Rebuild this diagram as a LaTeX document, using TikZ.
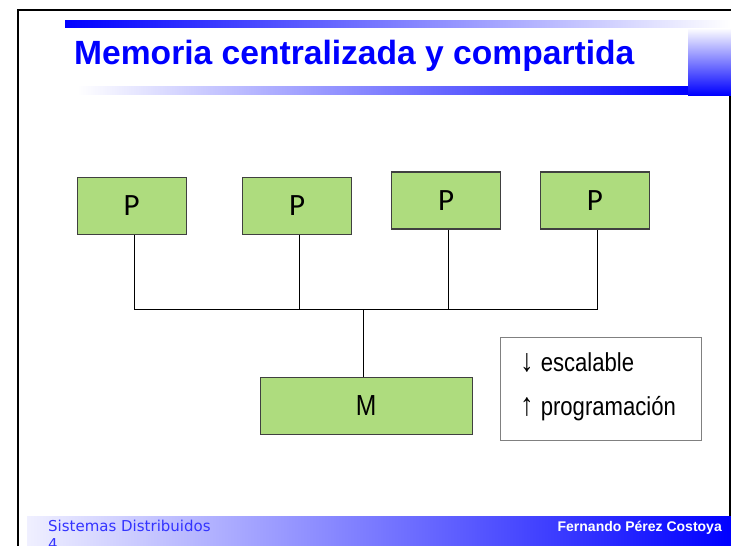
\documentclass[tikz,border=0pt]{standalone}
\usepackage{fontspec}
\setmainfont{Liberation Sans}
\newfontfamily\calfont{Carlito}
\newfontfamily\footfont{DejaVu Sans}
\newfontfamily\narrowfont{Liberation Sans}[FakeStretch=0.85]
\definecolor{pfill}{RGB}{174,220,126}
\definecolor{pedge}{RGB}{64,64,64}
\definecolor{slideblue}{RGB}{0,0,255}
\definecolor{footblue}{RGB}{51,51,255}
\newcommand{\arrowglyph}[1]{{\fontsize{32}{32}\selectfont #1}\hspace{7pt}}
\begin{document}
\begin{tikzpicture}[x=1pt,y=-1pt,
  unit/.style={draw=pedge, line width=1.2pt, fill=pfill, minimum width=109pt,
    minimum height=57pt, inner sep=0pt, font=\calfont\fontsize{31}{31}\selectfont},
  memunit/.style={unit, minimum width=212pt, font=\narrowfont\fontsize{29}{29}\selectfont},
  wire/.style={line width=1pt, black},
  label/.style={anchor=base west, inner sep=0pt, font=\narrowfont\fontsize{26}{26}\selectfont}]
\useasboundingbox (0,0) rectangle (731,546);

% slide frame
\draw[line width=2pt] (18,547) -- (18,10) -- (732,10);
\draw[line width=1.5pt] (730,95) -- (730,516);

% title decoration
\shade[left color=slideblue, right color=white] (65,20) rectangle (731,27);
\shade[left color=white, right color=slideblue] (77,86) rectangle (688,94);
\shade[top color=white, bottom color=slideblue] (688,28) rectangle (731,95);
\node[anchor=base west, inner sep=0pt, text=slideblue,
  font=\bfseries\fontsize{33.6}{34}\selectfont] (title) at (74,64.5)
  {Memoria centralizada y compartida};

% processors and memory
\node[unit] (p1) at (131.6,205.9) {P};
\node[unit] (p2) at (297.2,205.9) {P};
\node[unit] (p3) at (446.2,200.5) {P};
\node[unit] (p4) at (594.8,200.5) {P};
\node[memunit] (m) at (366.2,405.7) {M};
\coordinate (bus) at (0,309);

% bus
\draw[wire] ([xshift=2.7pt]p1.south) |- ([xshift=2.7pt]p4.south |- bus)
  -- ([xshift=2.7pt]p4.south);
\draw[wire] ([xshift=2.7pt]p2.south) -- ([xshift=2.7pt]p2.south |- bus);
\draw[wire] ([xshift=2.7pt]p3.south) -- ([xshift=2.7pt]p3.south |- bus);
\draw[wire] ([xshift=-2.9pt]m.north) -- ([xshift=-2.9pt]m.north |- bus);

% properties box
\node[draw=gray, line width=1pt, anchor=north west, minimum width=201pt,
  minimum height=103pt, inner sep=0pt] (props) at (500,337) {};
\node[label] (scal) at (520,371) {\arrowglyph{↓}escalable};
\node[label] (prog) at (520,415) {\arrowglyph{↑}programación};

% footer
\shade[left color=blue!6, right color=slideblue] (27,516) rectangle (731,546);
\node[anchor=base west, inner sep=0pt, text=footblue,
  font=\footfont\fontsize{15}{15}\selectfont] (course) at (48,531.5) {Sistemas Distribuidos};
\node[anchor=base west, inner sep=0pt, text=footblue,
  font=\footfont\fontsize{15}{15}\selectfont] (page) at (48,549) {4};
\node[anchor=base east, inner sep=0pt, text=white,
  font=\bfseries\fontsize{14}{14}\selectfont] (author) at (722,531) {Fernando Pérez Costoya};
\end{tikzpicture}
\end{document}
